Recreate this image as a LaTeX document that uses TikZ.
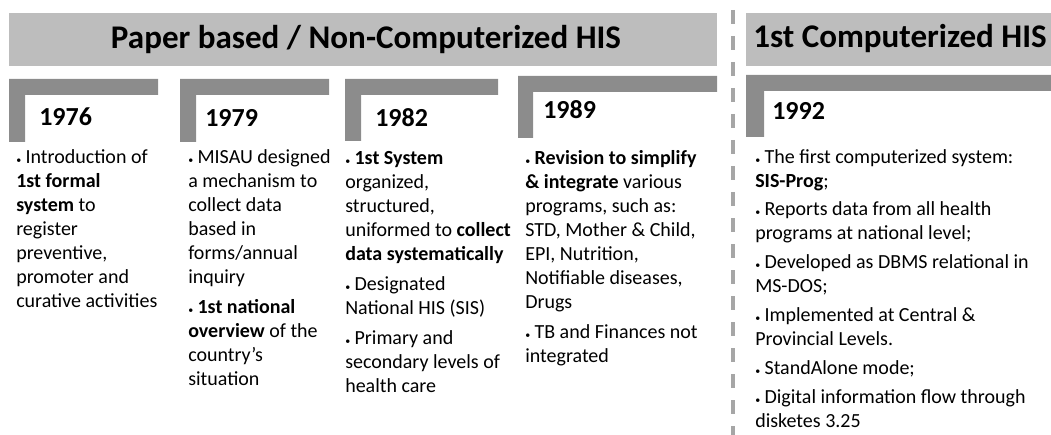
\documentclass[tikz,border=0pt]{standalone}
\usepackage{fontspec}
\setmainfont{Carlito}
\usetikzlibrary{positioning}

\definecolor{barGray}{HTML}{BDBDBD}
\definecolor{brkGray}{HTML}{8C8C8C}
\definecolor{dashGray}{HTML}{A6A6A6}

\newcommand{\bul}{\makebox[7pt][l]{\fontsize{7.5}{7.5}\selectfont •}}

\begin{document}
\begin{tikzpicture}[x=0.75pt,y=-0.75pt,
                    hdr/.style={font=\fontsize{24.8}{29}\selectfont\bfseries,inner sep=0pt},
                    yr/.style={font=\fontsize{19.5}{22}\selectfont\bfseries,inner sep=0pt,anchor=base west},
                    body/.style={font=\fontsize{15}{18}\selectfont,align=left,inner sep=0pt,anchor=north west},
                    bar/.style={fill=barGray},
                    bracket/.style={fill=brkGray}]

\useasboundingbox (0,0) rectangle (1051,435);

% headers
\fill[bar] (9,13) rectangle (717,66);
\fill[bar] (746,13) rectangle (1051,66);
\node[hdr,anchor=base] (hdrPaper) at (366,49) {Paper based / Non-Computerized HIS};
\node[hdr,anchor=base west] (hdrComp) at (753,48) {1st Computerized HIS};

% separator
\draw[dashGray,line width=3pt,dash pattern=on 10.5pt off 9pt] (733,10) -- (733,435);

% year brackets
\fill[bracket] (9,79) rectangle (158,95)   (9,79) rectangle (25,142);
\fill[bracket] (180,79) rectangle (329,95) (180,79) rectangle (196,142);
\fill[bracket] (345,79) rectangle (498,95) (345,79) rectangle (361,141);
\fill[bracket] (518,76) rectangle (717,92) (518,76) rectangle (533,138);
\fill[bracket] (746,75) rectangle (1051,91) (746,75) rectangle (764,137);

\node[yr] (y1976) at (39,126)  {1976};
\node[yr] (y1979) at (205,127) {1979};
\node[yr] (y1982) at (375,127) {1982};
\node[yr] (y1989) at (543,118) {1989};
\node[yr] (y1992) at (772,120) {1992};

% columns
\node[body] (txt1976) at (16,146) {\strut\bul Introduction of\\
  \textbf{1st formal}\\ \textbf{system} to\\ register\\ preventive,\\
  promoter and\\ curative activities};

\node[body] (txt1979) at (188,146) {\strut\bul MISAU designed\\
  a mechanism to\\ collect data\\ based in\\ forms/annual\\ inquiry\\[4.5pt]
  \bul\textbf{1st national}\\ \textbf{overview} of the\\ country’s\\ situation};

\node[body] (txt1982) at (345,147) {\strut\bul\textbf{1st System}\\
  organized,\\ structured,\\ uniformed to \textbf{collect}\\
  \textbf{data systematically}\\[4.5pt]
  \bul Designated\\ National HIS (SIS)\\[4.5pt]
  \bul Primary and\\ secondary levels of\\ health care};

\node[body] (txt1989) at (525,147) {\strut\bul\textbf{Revision to simplify}\\
  \textbf{\& integrate} various\\ programs, such as:\\ STD, Mother \& Child,\\
  EPI, Nutrition,\\ Notifiable diseases,\\ Drugs\\[4.5pt]
  \bul TB and Finances not\\ integrated};

\node[body] (txt1992) at (755,146) {\strut\bul The first computerized system:\\
  \textbf{SIS-Prog};\\[3.6pt]
  \bul Reports data from all health\\ programs at national level;\\[3.6pt]
  \bul Developed as DBMS relational in\\ MS-DOS;\\[3.6pt]
  \bul Implemented at Central \&\\ Provincial Levels.\\[3.6pt]
  \bul StandAlone mode;\\[3.6pt]
  \bul Digital information flow through\\ disketes 3.25};

\end{tikzpicture}
\end{document}
